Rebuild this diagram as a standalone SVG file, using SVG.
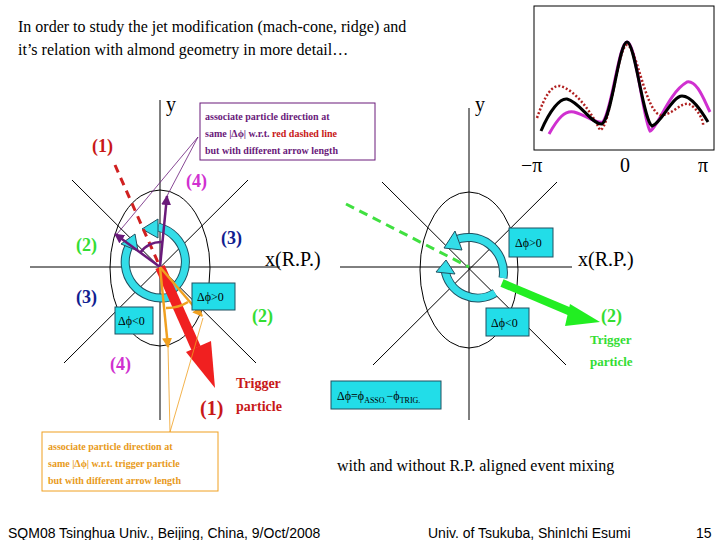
<svg xmlns="http://www.w3.org/2000/svg" width="720" height="540" viewBox="0 0 720 540">
<defs>
<style>
.ax{stroke:#000;stroke-width:1;fill:none}
.t{font-family:"Liberation Serif",serif}
.b{font-family:"Liberation Serif",serif;font-weight:bold}
.cy{fill:#33dde8;stroke:#205060;stroke-width:1}
.ring{fill:none;stroke:#205060;stroke-width:9}
.ringi{fill:none;stroke:#33dde8;stroke-width:7}
.box{fill:#22dde8;stroke:#205060;stroke-width:1}
.bx{font-family:"Liberation Serif",serif;font-size:12px}
</style>
<marker id="pa" viewBox="0 0 10 10" refX="9" refY="5" markerWidth="4" markerHeight="4" orient="auto"><path d="M0,0L10,5L0,10z" fill="#6a1a7a"/></marker>
<marker id="oa" viewBox="0 0 10 10" refX="9" refY="5" markerWidth="4" markerHeight="4" orient="auto"><path d="M0,0L10,5L0,10z" fill="#f0a020"/></marker>
</defs>
<rect width="720" height="540" fill="#fff"/>
<text class="t" x="18" y="32" font-size="16">In order to study the jet modification (mach-cone, ridge) and</text>
<text class="t" x="18" y="55" font-size="16">it’s relation with almond geometry in more detail…</text>

<g id="plot">
<rect x="534" y="6" width="180" height="144" fill="#fff" stroke="#000"/>
<path d="M549,134 C558,118 565,110 574,112 C588,116 596,124 603,122 C612,110 619,42 627,42 C636,42 643,120 650,131 C658,128 668,93 687,82 C697,80 704,100 710,112" fill="none" stroke="#d030d0" stroke-width="3"/>
<path d="M537,118 C545,95 552,85 560,86 C575,90 590,110 600,130 C610,130 618,45 627,45 C636,45 645,110 660,115 C672,116 680,102 689,104 C697,108 704,120 703,126" fill="none" stroke="#b02020" stroke-width="2.5" stroke-dasharray="2,2"/>
<path d="M541,131 C550,110 560,98 567,99 C580,102 592,125 602,124 C612,118 619,42 627,42 C635,42 643,120 652,126 C662,123 672,96 682,96 C692,96 702,112 708,122" fill="none" stroke="#000" stroke-width="3"/>
<text class="t" x="521" y="172" font-size="20">−π</text>
<text class="t" x="620" y="172" font-size="20">0</text>
<text class="t" x="698" y="172" font-size="20">π</text>
</g>

<g id="left-axes">
<line class="ax" x1="160" y1="100" x2="160" y2="420"/>
<line class="ax" x1="30" y1="267" x2="280" y2="267"/>
<line class="ax" x1="72" y1="180" x2="256" y2="363"/>
<line class="ax" x1="248" y1="180" x2="64" y2="363"/>
<ellipse class="ax" cx="160" cy="268" rx="50" ry="78"/>
<text class="t" x="166" y="111" font-size="20">y</text>
<text class="t" x="265" y="266" font-size="20">x(R.P.)</text>
</g>

<g id="right-axes">
<line class="ax" x1="469" y1="108" x2="469" y2="420"/>
<line class="ax" x1="340" y1="267" x2="572" y2="267"/>
<line class="ax" x1="382" y1="182" x2="566" y2="365"/>
<line class="ax" x1="557" y1="182" x2="373" y2="365"/>
<ellipse class="ax" cx="469" cy="270" rx="49" ry="78"/>
<text class="t" x="475" y="111" font-size="20">y</text>
<text class="t" x="578" y="266" font-size="20">x(R.P.)</text>
</g>

<g id="left-rings">
<path class="ring" d="M172,290 A36,36 0 0 0 158,227"/>
<path class="ringi" d="M172,290 A36,36 0 0 0 158,227"/>
<path class="cy" d="M158,219 L142,229 L158,238 z"/>
<path class="ring" d="M170,297 A36,36 0 0 1 129,246"/>
<path class="ringi" d="M170,297 A36,36 0 0 1 129,246"/>
<path class="cy" d="M121,244 L135,234 L138,251 z"/>
</g>

<g id="right-rings">
<path class="ring" d="M503,278 A35,35 0 0 0 453,241"/>
<path class="ringi" d="M503,278 A35,35 0 0 0 453,241"/>
<path class="cy" d="M455,231 L444,248 L462,250 z"/>
<path class="ring" d="M495,293 A33,33 0 0 1 445,270"/>
<path class="ringi" d="M495,293 A33,33 0 0 1 445,270"/>
<path class="cy" d="M436,272 L446,260 L455,274 z"/>
</g>

<g id="connectors">
<line x1="115" y1="165" x2="160" y2="267" stroke="#d02020" stroke-width="3" stroke-dasharray="8,6"/>
<path d="M160,267 L196,348" stroke="#f02020" stroke-width="10"/>
<path d="M186,352 L215,388 L211,341 z" fill="#f02020"/>
<line x1="346" y1="204" x2="469" y2="267" stroke="#40e040" stroke-width="3" stroke-dasharray="9,6"/>
<path d="M502,283 L578,315" stroke="#22ee22" stroke-width="8"/>
<path d="M570,304 L600,322 L565,326 z" fill="#22ee22"/>
<line x1="160" y1="267" x2="167" y2="196" stroke="#6a1a7a" stroke-width="2.5" marker-end="url(#pa)"/>
<line x1="160" y1="267" x2="115" y2="234" stroke="#6a1a7a" stroke-width="2.5" marker-end="url(#pa)"/>
<path d="M140,253 A25,25 0 0 1 163,242" fill="none" stroke="#6a1a7a" stroke-width="2.5"/>
<line x1="160" y1="267" x2="202" y2="316" stroke="#f0a020" stroke-width="2.5" marker-end="url(#oa)"/>
<line x1="160" y1="267" x2="168" y2="347" stroke="#f0a020" stroke-width="2.5" marker-end="url(#oa)"/>
<path d="M166,308 A40,40 0 0 0 188,302" fill="none" stroke="#f0a020" stroke-width="2.5"/>
<line x1="198" y1="137" x2="167" y2="196" stroke="#6a1a7a" stroke-width="0.8"/>
<line x1="198" y1="137" x2="117" y2="234" stroke="#6a1a7a" stroke-width="0.8"/>
<line x1="170" y1="432" x2="168" y2="347" stroke="#f0a020" stroke-width="0.8"/>
<line x1="170" y1="432" x2="203" y2="318" stroke="#f0a020" stroke-width="0.8"/>
</g>

<g id="labels">
<text class="b" x="92" y="152" font-size="18" fill="#c81818">(1)</text>
<text class="b" x="186" y="187" font-size="18" fill="#d030d0">(4)</text>
<text class="b" x="76" y="251" font-size="18" fill="#33dd33">(2)</text>
<text class="b" x="221" y="244" font-size="18" fill="#102090">(3)</text>
<text class="b" x="76" y="303" font-size="18" fill="#102090">(3)</text>
<text class="b" x="252" y="322" font-size="18" fill="#33dd33">(2)</text>
<text class="b" x="110" y="370" font-size="18" fill="#d030d0">(4)</text>
<text class="b" x="200" y="415" font-size="20" fill="#c81818">(1)</text>
<text class="b" x="236" y="388" font-size="14" fill="#c81818">Trigger</text>
<text class="b" x="236" y="411" font-size="14" fill="#c81818">particle</text>
<text class="b" x="601" y="322" font-size="18" fill="#33dd33">(2)</text>
<text class="b" x="590" y="344" font-size="13" fill="#33dd33">Trigger</text>
<text class="b" x="590" y="366" font-size="13" fill="#33dd33">particle</text>
</g>

<g id="boxes">
<rect class="box" x="192" y="283" width="43" height="27"/>
<text class="bx" x="197" y="301">Δϕ&gt;0</text>
<rect class="box" x="115" y="307" width="38" height="27"/>
<text class="bx" x="118" y="325">Δϕ&lt;0</text>
<rect class="box" x="509" y="228" width="44" height="29"/>
<text class="bx" x="515" y="247">Δϕ&gt;0</text>
<rect class="box" x="486" y="308" width="43" height="28"/>
<text class="bx" x="491" y="327">Δϕ&lt;0</text>
<rect class="box" x="331" y="381" width="110" height="28"/>
<text class="bx" x="337" y="400">Δϕ=ϕ<tspan font-size="8" dy="3">ASSO.</tspan><tspan dy="-3">−ϕ</tspan><tspan font-size="8" dy="3">TRIG.</tspan></text>
</g>

<g id="notes">
<rect x="200" y="103" width="175" height="57" fill="#fff" stroke="#6a1a7a"/>
<text class="b" x="205" y="120" font-size="10" fill="#6a1a7a">associate particle direction at</text>
<text class="b" x="205" y="137" font-size="10" fill="#6a1a7a">same |Δϕ| w.r.t. <tspan fill="#c81818">red dashed line</tspan></text>
<text class="b" x="205" y="154" font-size="10" fill="#6a1a7a">but with different arrow length</text>
<rect x="42" y="432" width="176" height="59" fill="#fff" stroke="#f0a020"/>
<text class="b" x="48" y="450" font-size="10" fill="#e89a20">associate particle direction at</text>
<text class="b" x="48" y="467" font-size="10" fill="#e89a20">same |Δϕ| w.r.t. trigger particle</text>
<text class="b" x="48" y="484" font-size="10" fill="#e89a20">but with different arrow length</text>
</g>

<text class="t" x="337" y="471" font-size="16">with and without R.P. aligned event mixing</text>
<text x="8" y="538" font-family="Liberation Sans,sans-serif" font-size="14">SQM08 Tsinghua Univ., Beijing, China, 9/Oct/2008</text>
<text x="428" y="538" font-family="Liberation Sans,sans-serif" font-size="14">Univ. of Tsukuba, ShinIchi Esumi</text>
<text x="696" y="538" font-family="Liberation Sans,sans-serif" font-size="14">15</text>
</svg>
